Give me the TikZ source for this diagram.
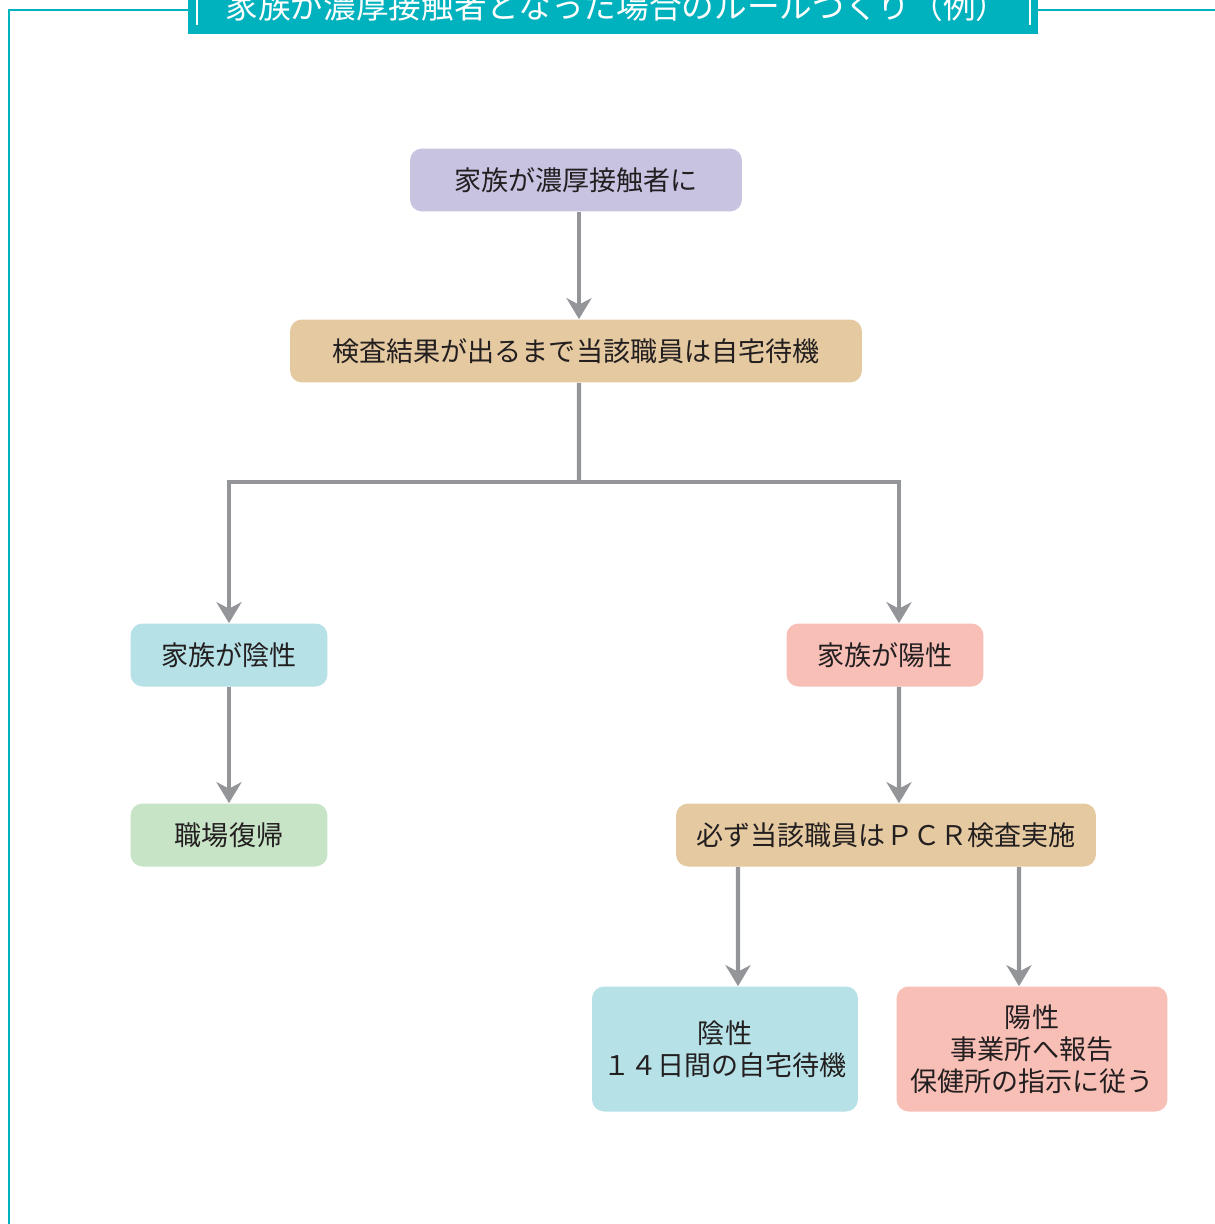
\documentclass[tikz,border=0pt]{standalone}
\usepackage{fontspec}
\setmainfont{Noto Sans CJK JP}
\usetikzlibrary{arrows.meta}
\definecolor{frameteal}{HTML}{00B1BE}
\definecolor{arrgray}{HTML}{939598}
\definecolor{txtgray}{HTML}{231F20}
\definecolor{purplebox}{HTML}{C9C3E2}
\definecolor{tanbox}{HTML}{E5C9A0}
\definecolor{bluebox}{HTML}{B6E1E6}
\definecolor{pinkbox}{HTML}{F8BFB7}
\definecolor{greenbox}{HTML}{C7E4C7}

\begin{document}
\begin{tikzpicture}[x=0.02cm,y=-0.02cm,
  box/.style={rounded corners=0.24cm, minimum height=1.26cm, inner sep=0pt, align=center,
    text=txtgray, font=\fontsize{15.4}{18.2}\selectfont},
  arr/.style={draw=arrgray, line width=0.085cm, -{Stealth[length=0.42cm,width=0.5cm,inset=0.13cm]}}]
\useasboundingbox (0,0) rectangle (1214,1224);

\draw [frameteal, line width=0.045cm] (188,10) -| (9,1240);
\draw [frameteal, line width=0.045cm] (1038,10) -- (1230,10);
\fill [frameteal] (188,-40) rectangle (1038,34);
\draw [white, line width=0.03cm] (197,-5) -- (197,25);
\draw [white, line width=0.03cm] (1030,-5) -- (1030,25);
\node [text=white, font=\fontsize{18.6}{20}\selectfont] (title) at (617,6) {家族が濃厚接触者となった場合のルールづくり（例）};

\node [box, fill=purplebox, minimum width=6.64cm] (contact) at (576,180) {家族が濃厚接触者に};
\node [box, fill=tanbox, minimum width=11.44cm] (wait) at (576,351) {検査結果が出るまで当該職員は自宅待機};
\node [box, fill=bluebox, minimum width=3.94cm] (famneg) at (229,655) {家族が陰性};
\node [box, fill=pinkbox, minimum width=3.94cm] (fampos) at (885,655) {家族が陽性};
\node [box, fill=greenbox, minimum width=3.94cm] (back) at (229,835) {職場復帰};
\node [box, fill=tanbox, minimum width=8.4cm] (pcr) at (886,835) {必ず当該職員はＰＣＲ検査実施};
\node [box, fill=bluebox, minimum width=5.32cm, minimum height=2.5cm] (neg) at (725,1049) {陰性\\１４日間の自宅待機};
\node [box, fill=pinkbox, minimum width=5.42cm, minimum height=2.5cm] (pos) at (1032,1049) {陽性\\事業所へ報告\\保健所の指示に従う};

\coordinate (split) at (579,482);
\draw [arr] ([xshift=0.06cm]contact.south) -- ([xshift=0.06cm]wait.north);
\draw [arrgray, line width=0.085cm] ([xshift=0.06cm]wait.south) -- (split);
\draw [arr] (split) -| (famneg.north);
\draw [arr] (split) -| ([xshift=0.28cm]fampos.north);
\draw [arr] (famneg) -- (back);
\draw [arr] ([xshift=0.28cm]fampos.south) -- ([xshift=0.26cm]pcr.north);
\draw [arr] ([xshift=-2.96cm]pcr.south) -- ([xshift=0.26cm]neg.north);
\draw [arr] ([xshift=2.66cm]pcr.south) -- ([xshift=-0.26cm]pos.north);
\end{tikzpicture}
\end{document}
